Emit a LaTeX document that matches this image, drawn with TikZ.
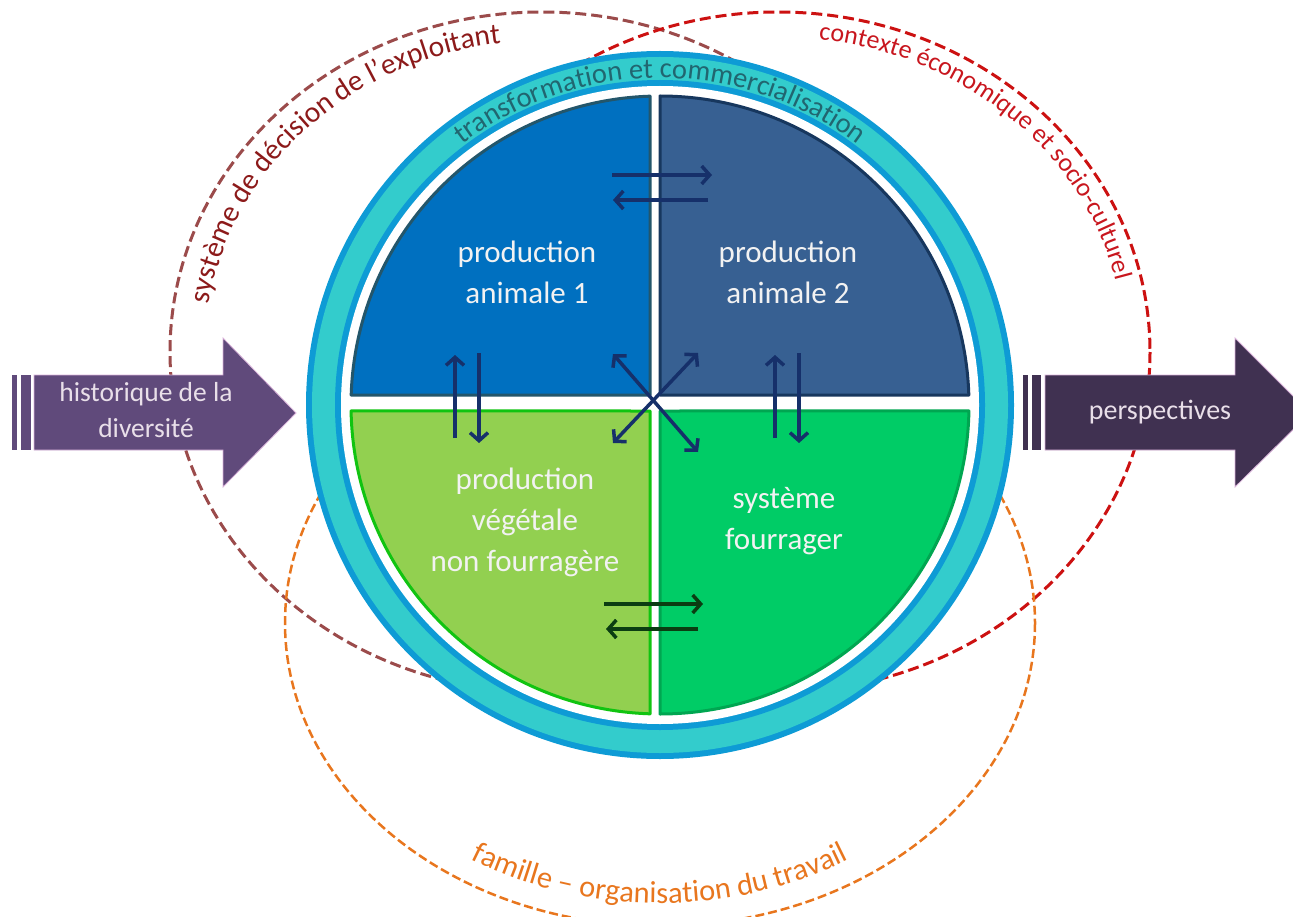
\documentclass[tikz,border=0pt]{standalone}
\usepackage{fontspec}
\setmainfont{Carlito}
\usetikzlibrary{arrows.meta,decorations.text}

\definecolor{brownline}{HTML}{9B4B4B}
\definecolor{browntext}{HTML}{8C1A1A}
\definecolor{redline}{HTML}{CC1111}
\definecolor{redtext}{HTML}{C8161E}
\definecolor{orangeline}{HTML}{E8761E}
\definecolor{ringblue}{HTML}{0E9BD5}
\definecolor{ringteal}{HTML}{33CCCC}
\definecolor{ringtext}{HTML}{216670}
\definecolor{qa}{HTML}{0070C0}
\definecolor{qaborder}{HTML}{23566B}
\definecolor{qb}{HTML}{376092}
\definecolor{qbborder}{HTML}{17375E}
\definecolor{qc}{HTML}{92D050}
\definecolor{qcborder}{HTML}{11C411}
\definecolor{qd}{HTML}{00CC66}
\definecolor{qdborder}{HTML}{00A651}
\definecolor{navy}{HTML}{16306A}
\definecolor{darkgreen}{HTML}{0B3D12}
\definecolor{pastarrow}{HTML}{604A7B}
\definecolor{futurearrow}{HTML}{403151}
\definecolor{softwhite}{HTML}{F2F2F2}

\begin{document}
\begin{tikzpicture}[x=1pt,y=-1pt,
  qtext/.style={text=softwhite, align=center, font=\fontsize{31}{41}\selectfont},
  bigtext/.style={text=softwhite!92!violet, align=center, font=\fontsize{27.5}{36}\selectfont},
  bigarrow/.style={draw=white!70!violet, line width=0.8pt},
  ctxdash/.style={line width=3pt, dash pattern=on 11pt off 5pt},
  flow/.style={line width=3.5pt, -{Straight Barb[length=8pt,width=18pt]}},
  flowboth/.style={line width=3.5pt, {Straight Barb[length=8pt,width=18pt]}-{Straight Barb[length=8pt,width=18pt]}},
  quad/.style={line width=3pt, line join=round},
]
\useasboundingbox (0,0) rectangle (1293,917);
\clip (0,0) rectangle (1293,917);

% context ellipses, behind everything else
\draw[ctxdash, brownline] (542,352) ellipse [x radius=372, y radius=340];
\draw[ctxdash, redline] (778,352) ellipse [x radius=372, y radius=340];
\draw[orangeline, line width=2.5pt, dash pattern=on 9pt off 4pt] (660,623) ellipse [x radius=375, y radius=303];

% labels following the ellipses
\path[decorate, decoration={text along path, text align=center,
  text={|\fontsize{29.5}{31}\selectfont\color{browntext}|système de décision de l’exploitant}}]
  ([shift={(542,352)}]165:337 and 311) arc[start angle=165, end angle=285, x radius=337, y radius=311];
\path[decorate, decoration={text along path, text align=center,
  text={|\fontsize{26}{28}\selectfont\color{redtext}|contexte économique et socio-culturel}}]
  ([shift={(778,352)}]253:347 and 315) arc[start angle=253, end angle=373, x radius=347, y radius=315];
\path[decorate, decoration={text along path, text align=center,
  text={|\fontsize{30.5}{32}\selectfont\color{orangeline}|famille – organisation du travail}}]
  ([shift={(660,623)}]150:353 and 280) arc[start angle=150, end angle=30, x radius=353, y radius=280];

% past and future arrows
\fill[pastarrow] (12,375) rectangle (17,450);
\fill[pastarrow] (21,375) rectangle (31,450);
\filldraw[pastarrow, bigarrow] (34,375) -- (223,375) -- (223,338) -- (296,413) -- (223,487) -- (223,450) -- (34,450) -- cycle;
\node[bigtext] (hist) at (146,410) {historique de la\\diversité};

\fill[futurearrow] (1023,375) rectangle (1028,450);
\fill[futurearrow] (1032,375) rectangle (1041,450);
\filldraw[futurearrow, bigarrow] (1045,375) -- (1235,375) -- (1235,338) -- (1310,413) -- (1235,487) -- (1235,450) -- (1045,450) -- cycle;
\node[bigtext, font=\fontsize{28}{34}\selectfont] (persp) at (1160,412) {perspectives};

% transformation ring
\fill[ringblue] (660,405) circle[radius=354];
\fill[ringteal] (660,405) circle[radius=348];
\fill[ringblue] (660,405) circle[radius=325];
\fill[white] (660,405) circle[radius=319];
\path[decorate, decoration={text along path, text align=center,
  text={|\fontsize{28.5}{30}\selectfont\color{ringtext}|transformation et commercialisation}}]
  ([shift={(660,405)}]200:327) arc[start angle=200, end angle=340, radius=327];

% the four productions
\filldraw[quad, fill=qa, draw=qaborder] (650,395) -- ([shift={(660,405)}]181.85:309)
  arc[start angle=181.85, end angle=268.15, radius=309] -- cycle;
\filldraw[quad, fill=qb, draw=qbborder] (660,395) -- ([shift={(660,405)}]270:309)
  arc[start angle=270, end angle=358.15, radius=309] -- cycle;
\filldraw[quad, fill=qc, draw=qcborder] (650,411) -- ([shift={(660,405)}]91.85:309)
  arc[start angle=91.85, end angle=178.89, radius=309] -- cycle;
\filldraw[quad, fill=qd, draw=qdborder] (660,411) -- ([shift={(660,405)}]1.11:309)
  arc[start angle=1.11, end angle=90, radius=309] -- cycle;

\node[qtext] (pa1) at (527,272) {production\\animale 1};
\node[qtext] (pa2) at (788,272) {production\\animale 2};
\node[qtext] (pv) at (525,522) {production\\végétale\\non fourragère};
\node[qtext] (sf) at (784,521) {système\\fourrager};

% exchanges between productions
\coordinate (a1r) at (612,175);  \coordinate (a2l) at (712,175);
\coordinate (a2r) at (708,200);  \coordinate (a1l) at (613,200);
\coordinate (a1d) at (455,438);  \coordinate (a1u) at (455,355);
\coordinate (a1s) at (479,353);  \coordinate (vb) at (479,443);
\coordinate (a2d) at (775,438);  \coordinate (a2u) at (775,355);
\coordinate (a2s) at (799,353);  \coordinate (fb) at (799,443);
\coordinate (xa1) at (613,354);  \coordinate (xsf) at (698,452);
\coordinate (xa2) at (698,353);  \coordinate (xpv) at (613,443);
\coordinate (vr) at (604,604);   \coordinate (fl) at (703,604);
\coordinate (fr) at (698,629);   \coordinate (vl) at (606,629);

\draw[flow, navy] (a1r) -- (a2l);
\draw[flow, navy] (a2r) -- (a1l);
\draw[flow, navy] (a1d) -- (a1u);
\draw[flow, navy] (a1s) -- (vb);
\draw[flow, navy] (a2d) -- (a2u);
\draw[flow, navy] (a2s) -- (fb);
\draw[flowboth, navy] (xa1) -- (xsf);
\draw[flowboth, navy] (xa2) -- (xpv);
\draw[flow, darkgreen] (vr) -- (fl);
\draw[flow, darkgreen] (fr) -- (vl);
\end{tikzpicture}
\end{document}
